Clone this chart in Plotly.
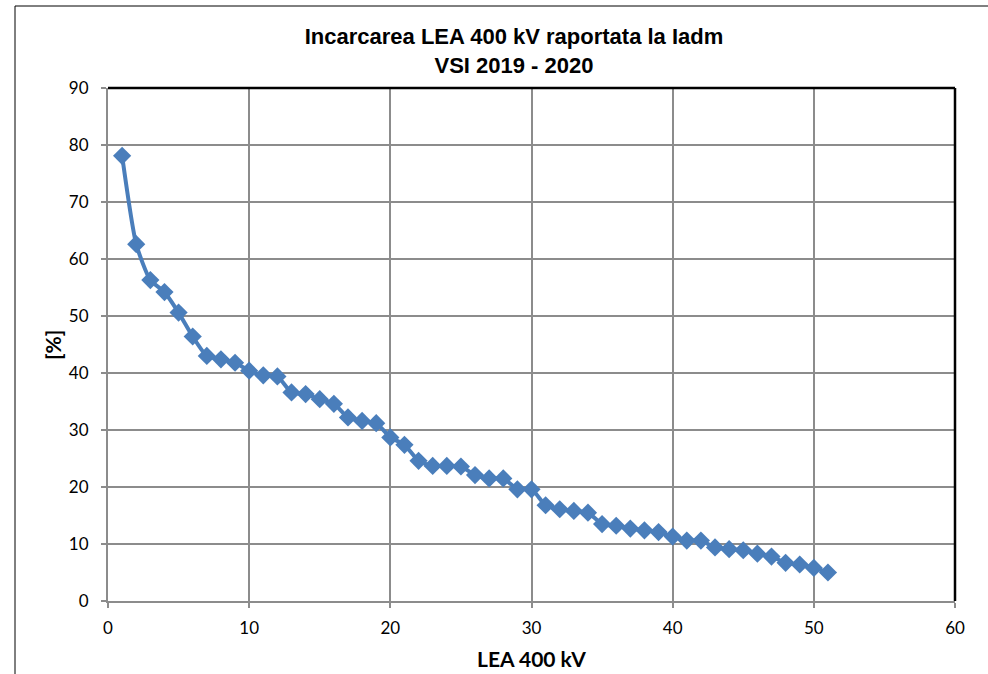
import plotly.graph_objects as go

x_vals = list(range(1, 52))
y_vals = [78.1, 62.6, 56.3, 54.2, 50.6, 46.4, 43.0, 42.4, 41.8, 40.4,
          39.6, 39.4, 36.6, 36.3, 35.4, 34.6, 32.2, 31.6, 31.2, 28.7,
          27.4, 24.6, 23.7, 23.7, 23.6, 22.1, 21.5, 21.5, 19.6, 19.6,
          16.8, 16.1, 15.8, 15.5, 13.5, 13.2, 12.7, 12.4, 12.1, 11.3,
          10.6, 10.6, 9.4, 9.1, 8.9, 8.3, 7.8, 6.7, 6.4, 5.8, 5.0]
x_ticks = [0, 10, 20, 30, 40, 50, 60]
y_ticks = [0, 10, 20, 30, 40, 50, 60, 70, 80, 90]

title_text = "Incarcarea LEA 400 kV raportata la Iadm<br>VSI 2019 - 2020"
x_title = "LEA 400 kV"
y_title = "[%]"

blue = "#4A7EBB"
grid = "#8C8C8C"
tick_font = dict(family="Lato, Carlito, sans-serif", size=17, color="#000000")
label_font = dict(family="Lato, Carlito, sans-serif", size=21, color="#000000")

W, H = 988, 674
L, R, T, B = 108, 33, 88, 73
pw, ph = W - L - R, H - T - B

fig = go.Figure()
fig.add_trace(go.Scatter(
    x=x_vals, y=y_vals, mode="lines+markers",
    line=dict(color=blue, width=4, shape="spline", smoothing=0.6),
    marker=dict(symbol="diamond", size=14, color=blue),
    showlegend=False, hoverinfo="x+y",
))

fig.update_layout(
    width=W, height=H,
    margin=dict(l=L, r=R, t=T, b=B),
    paper_bgcolor="white", plot_bgcolor="white",
    title=dict(text="<b>" + title_text + "</b>",
               x=(514 - L) / pw, xref="paper", xanchor="center",
               y=1 - 44 / H, yref="container", yanchor="middle",
               font=dict(family="Liberation Sans, Arial, sans-serif", size=22, color="#000000")),
    xaxis=dict(range=[0, 60], tickvals=x_ticks, showgrid=True, gridcolor=grid, gridwidth=1.5,
               showline=True, linecolor=grid, linewidth=2, ticks="outside", ticklen=5,
               tickcolor=grid, tickwidth=1.5, tickfont=tick_font, zeroline=False,
               ticklabelstandoff=6),
    yaxis=dict(range=[0, 90], tickvals=y_ticks, showgrid=True, gridcolor=grid, gridwidth=1.5,
               showline=True, linecolor=grid, linewidth=2, ticks="outside", ticklen=5,
               tickcolor=grid, tickwidth=1.5, tickfont=tick_font, zeroline=False,
               ticklabelstandoff=9),
    annotations=[
        dict(text="<b>" + x_title + "</b>", xref="paper", yref="paper",
             x=(531 - L) / pw, y=(H - B - 658) / ph, xanchor="center", yanchor="middle",
             showarrow=False, font=label_font),
        dict(text="<b>" + y_title + "</b>", xref="paper", yref="paper",
             x=(52 - L) / pw, y=(H - B - 345) / ph, xanchor="center", yanchor="middle",
             textangle=-90, showarrow=False, font=label_font),
    ],
    shapes=[
        dict(type="line", xref="paper", yref="paper", x0=0, x1=1, y0=1, y1=1,
             line=dict(color="black", width=2.5)),
        dict(type="line", xref="paper", yref="paper", x0=1, x1=1, y0=0, y1=1,
             line=dict(color="black", width=2.5)),
        dict(type="line", xref="paper", yref="paper",
             x0=(15 - L) / pw, x1=(15 - L) / pw, y0=-0.3, y1=(H - B - 6) / ph,
             line=dict(color="black", width=1)),
        dict(type="line", xref="paper", yref="paper",
             x0=(15 - L) / pw, x1=1.2, y0=(H - B - 6) / ph, y1=(H - B - 6) / ph,
             line=dict(color="black", width=1)),
    ],
)

fig.write_html("out.html", config={"displayModeBar": False},
               post_script="document.body.style.margin='0';document.body.style.overflow='hidden';")
